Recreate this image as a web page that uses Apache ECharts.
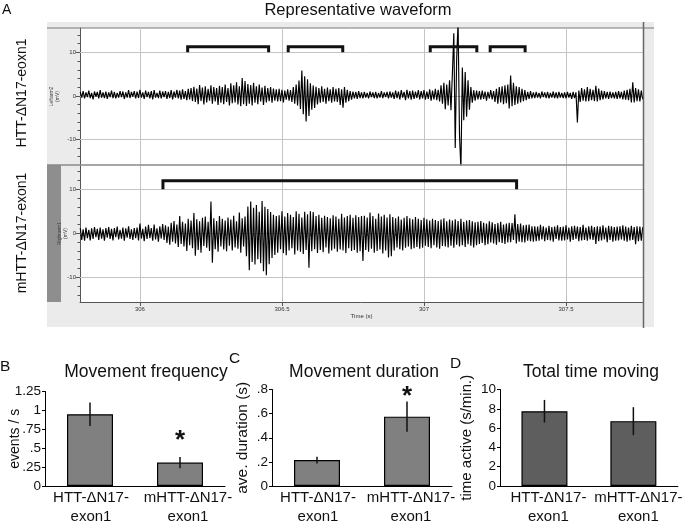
<!DOCTYPE html>
<html><head><meta charset="utf-8">
<script src="https://cdn.jsdelivr.net/npm/echarts@6/dist/echarts.min.js"></script>
<style>html,body{margin:0;padding:0;background:#fff}#c{width:685px;height:527px}</style>
</head><body><div id="c"></div>
<script>
// ---------- DATA ----------
const traceStart = 305.79;   // s, first sample
const traceStep = 0.005;     // s between samples
const timeRange = [305.789, 307.771];
const timeTicks = [306, 306.5, 307, 307.5];
const minorTimeTicks = [305.8,305.9,306.0,306.1,306.2,306.3,306.4,306.5,306.6,306.7,306.8,306.9,307.0,307.1,307.2,307.3,307.4,307.5,307.6,307.7];
const voltTicks = [-10, 0, 10];
const minorVoltTicks = [-14,-12,-10,-8,-6,-4,-2,0,2,4,6,8,10,12,14];

// Leftarm2 (mV), HTT-ΔN17-eoxn1
const topTrace = [
0.9,-0.4,1.1,-0.6,0.8,-0.3,1.2,-0.5,0.7,-0.8,1.0,-0.2,0.9,-0.6,1.3,-0.4,0.8,-0.5,1.0,-0.7,
0.8,-0.3,1.2,-0.5,0.9,-0.6,0.7,-0.4,1.1,-0.3,1.0,-0.7,0.8,-0.4,1.3,-0.5,0.9,-0.2,1.1,-0.6,
1.0,-0.5,1.4,-0.4,0.8,-0.7,1.2,-0.3,0.9,-0.6,1.1,-0.8,1.3,-0.4,0.7,-0.5,1.2,-0.6,1.0,-0.3,
1.1,-0.7,0.9,-0.5,1.3,-0.8,1.0,-0.4,1.4,-0.6,1.2,-0.9,1.5,-0.7,1.1,-1.0,1.6,-0.8,1.8,-1.2,
2.1,-1.4,1.7,-1.9,2.5,-1.2,1.9,-2.0,2.2,-1.5,1.6,-1.1,2.4,-1.8,2.0,-1.3,1.8,-2.1,2.3,-1.6,
2.0,-1.9,2.6,-1.4,1.8,-2.2,2.9,-1.7,2.4,-1.5,3.1,-2.0,2.2,-2.4,4.1,-1.9,3.4,-2.3,2.7,-1.8,
2.5,-2.2,3.0,-1.6,2.2,-1.9,2.6,-1.3,1.9,-2.1,2.3,-1.5,1.8,-1.2,2.0,-1.6,1.7,-1.1,1.5,-1.3,
1.6,-1.2,1.4,-1.5,1.2,-0.9,1.5,-1.1,1.3,-1.4,2.0,-1.8,2.6,-2.2,3.5,-3.0,5.8,-4.2,4.5,-5.9,
3.8,-4.6,2.9,-3.2,2.4,-2.8,2.1,-2.0,1.8,-1.6,2.2,-1.4,1.6,-1.8,1.9,-1.2,1.5,-1.6,2.0,-1.3,
1.6,-1.4,1.8,-2.1,1.5,-2.7,2.0,-1.6,1.4,-1.2,1.1,-0.9,1.0,-0.6,0.9,-0.7,1.1,-0.5,0.8,-0.6,
0.9,-0.4,0.7,-0.6,1.0,-0.3,0.8,-0.5,0.9,-0.6,0.7,-0.4,1.1,-0.5,0.8,-0.3,0.9,-0.6,1.0,-0.4,
0.8,-0.7,1.2,-0.5,1.0,-0.8,1.3,-0.4,0.9,-1.0,1.4,-0.6,1.1,-0.9,1.2,-0.7,1.0,-0.5,1.3,-0.8,
1.1,-0.6,1.3,-0.9,1.0,-0.7,1.5,-1.1,1.2,-0.8,1.6,-1.0,1.4,-1.3,2.4,-1.8,3.0,-3.1,2.6,-2.2,
3.6,-3.3,5.2,14.4,-12.0,8.5,17,-9.0,-17,6.5,-5.6,5.5,-4.8,3.6,-3.2,2.0,-1.6,1.3,-1.1,1.2,
-0.8,1.1,-0.9,1.2,-0.7,1.0,-1.1,0.9,-0.6,1.3,-0.8,1.1,-1.4,1.6,-1.8,2.0,-1.5,2.2,-1.9,2.4,
-1.7,2.6,-2.9,4.7,-2.4,3.0,-2.1,2.2,-1.8,2.0,-1.5,1.6,-1.2,1.3,-1.0,0.9,-0.7,1.1,-0.6,0.8,
-0.5,0.9,-0.4,0.7,-0.6,1.0,-0.3,0.8,-0.5,0.9,-0.6,0.7,-0.4,1.0,-0.5,0.8,-0.6,0.9,-0.4,0.7,
-0.5,0.8,-0.6,0.9,-0.4,0.7,-0.7,0.9,-0.5,0.8,-6.1,1.2,-1.4,1.8,-1.1,1.5,-1.3,2.0,-1.2,1.6,
-1.0,1.4,-1.2,2.3,-1.3,1.7,-1.0,1.2,-0.8,1.1,-0.6,0.9,-0.7,1.0,-0.5,0.8,-0.6,0.9,-0.7,1.1,
-0.6,0.9,-0.8,1.2,-0.9,1.4,-1.0,1.6,-1.5,3.1,-1.5,1.8,-1.2,1.5,-1.3,1.2,-0.8
];

// Rightarm1 (mV), mHTT-ΔN17-exon1
const bottomTrace = [
1.2,-1.5,0.9,-1.7,1.3,-1.1,0.8,-1.6,1.1,-1.3,1.4,-0.9,1.0,-1.5,1.3,-1.2,0.9,-1.7,1.2,-1.0,
1.4,-1.3,1.0,-1.6,1.2,-0.9,1.5,-1.4,0.8,-1.2,1.3,-1.7,1.1,-1.0,1.6,-1.3,0.9,-1.5,1.2,-1.1,
1.3,-1.6,2.2,-1.2,1.0,-1.8,1.5,-1.3,1.9,-1.1,1.2,-1.7,2.0,-1.4,1.1,-1.9,1.6,-1.2,2.1,-1.5,
1.8,-2.2,1.5,-2.6,2.4,-1.9,2.8,-2.3,2.0,-3.1,3.9,-2.4,2.6,-3.0,2.2,-4.0,3.3,-2.7,2.9,-3.4,
4.6,-5.1,3.2,-3.8,2.7,-4.4,3.5,-2.9,3.8,-3.3,2.6,-4.0,7.2,-6.7,3.4,-3.6,2.8,-4.2,3.9,-3.0,
3.3,-3.7,2.9,-4.1,3.6,-2.8,3.1,-3.9,4.0,-3.2,2.7,-3.5,4.7,-4.4,3.4,-3.0,3.8,-5.2,6.1,-8.4,
7.2,-6.5,5.8,-7.1,6.4,-5.9,4.9,-6.8,7.3,-8.6,6.0,-9.5,5.5,-7.0,4.8,-5.6,4.2,-4.9,3.9,-4.4,
4.1,-3.6,5.0,-4.5,3.8,-5.0,4.6,-3.9,4.2,-3.4,3.7,-4.8,5.0,-3.9,4.4,-4.2,3.6,-4.7,4.9,-3.8,
4.3,-7.8,5.0,-4.1,4.8,-3.6,3.9,-4.5,4.2,-3.8,3.5,-4.3,4.0,-3.2,3.7,-4.6,3.4,-3.9,4.1,-3.5,
3.8,-4.2,3.3,-3.7,4.4,-3.9,3.6,-4.5,3.9,-3.4,4.2,-4.0,3.5,-3.8,4.1,-4.4,3.7,-4.1,3.9,-6.3,
4.0,-3.8,3.6,-4.2,4.7,-3.5,3.9,-4.4,3.3,-4.0,4.5,-3.7,3.8,-4.6,4.2,-3.9,3.6,-5.5,4.3,-5.2,
3.7,-3.9,3.4,-3.2,3.8,-3.6,3.1,-3.9,3.5,-3.3,3.9,-3.0,3.4,-3.6,3.2,-3.4,3.7,-3.1,3.3,-3.5,
3.0,-3.3,3.5,-2.8,3.2,-3.1,2.9,-3.4,3.3,-2.7,3.0,-3.2,2.8,-3.5,3.1,-2.9,3.4,-3.0,2.7,-3.2,
3.1,-2.8,2.9,-3.3,3.2,-2.6,2.8,-3.0,3.3,-2.7,2.6,-3.1,2.9,-2.5,3.0,-2.8,2.7,-3.2,2.5,-2.7,
2.6,-2.4,2.8,-2.2,2.4,-2.7,2.2,-2.5,2.7,-2.1,2.5,-2.3,2.1,-2.6,2.3,-2.0,2.6,-2.2,2.0,-2.4,
2.2,-2.1,2.4,-2.0,2.3,-1.5,4.3,-2.3,2.1,-1.9,2.2,-2.0,1.8,-2.1,1.9,-1.7,2.0,-1.8,1.6,-1.9,
1.6,-1.8,1.5,-1.7,1.9,-1.4,1.6,-1.8,1.3,-1.5,1.7,-1.6,1.4,-1.9,1.5,-1.3,1.8,-1.6,1.4,-1.7,
1.5,-1.6,1.8,-1.4,1.3,-1.9,1.6,-1.5,1.7,-1.3,1.5,-1.8,1.4,-1.6,1.9,-1.5,1.3,-1.7,1.6,-1.4,
1.7,-1.5,1.4,-2.4,1.6,-1.8,1.5,-1.6,1.8,-1.4,1.3,-2.0,1.7,-1.5,1.6,-1.9,1.4,-1.7,1.5,-1.6,
1.6,-1.4,1.8,-1.7,1.5,-1.9,1.3,-1.6,1.7,-1.5,1.4,-2.5,1.6,-1.8,1.5,-1.7,1.4
];

// movement brackets [start, end] in s
const topBrackets = [[306.168, 306.453], [306.522, 306.714], [307.022, 307.186], [307.233, 307.356]];
const topBracketLevel = 11.3;
const bottomBrackets = [[306.081, 307.326]];
const bottomBracketLevel = 11.9;
const bracketBase = 10;

// panels B-D
const groups = ['HTT-ΔN17-\nexon1', 'mHTT-ΔN17-\nexon1'];
const freqMean = [0.95, 0.31];
const freqErr = [0.155, 0.075];
const freqStar = [null, 0.66];
const durMean = [0.215, 0.575];
const durErr = [0.028, 0.125];
const durStar = [null, 0.78];
const activeMean = [7.75, 6.72];
const activeErr = [1.17, 1.45];

// ---------- CHART ----------
const FONT = '"Liberation Sans", Arial, sans-serif';
const chart = echarts.init(document.getElementById('c'));
const toPairs = vals => vals.map((v, i) => [+(traceStart + i * traceStep).toFixed(3), v]);
const dropLead = v => { const s = String(+v.toFixed(4)); return s.startsWith('0.') ? s.slice(1) : s; };

const smallTxt = { fontSize: 6, color: '#333', fontFamily: FONT };

function waveX(grid, labelled) {
  return {
    gridIndex: grid, type: 'value', position: 'bottom', min: timeRange[0], max: timeRange[1],
    axisLine: { show: labelled, onZero: false, lineStyle: { color: '#555', width: 1 } },
    axisTick: { show: labelled, customValues: timeTicks, length: 4, lineStyle: { color: '#555' } },
    axisLabel: labelled ? Object.assign({ customValues: timeTicks, margin: 4 }, smallTxt) : { show: false },
    splitLine: { show: false },
    name: labelled ? 'Time (s)' : '', nameLocation: 'middle', nameGap: 10, nameTextStyle: smallTxt
  };
}
function minorX(grid) {
  return {
    gridIndex: grid, type: 'value', position: 'bottom', min: timeRange[0], max: timeRange[1],
    axisLine: { show: false }, axisLabel: { show: false }, splitLine: { show: false },
    axisTick: { show: true, customValues: minorTimeTicks, length: 2.5, lineStyle: { color: '#555' } }
  };
}
function waveY(grid, min, max, name, gap) {
  return {
    gridIndex: grid, type: 'value', position: 'left', min: min, max: max,
    axisLine: { show: true, onZero: false, lineStyle: { color: '#555', width: 1 } },
    axisTick: { show: true, customValues: voltTicks, length: 4, lineStyle: { color: '#555' } },
    axisLabel: Object.assign({ customValues: voltTicks, margin: 4 }, smallTxt),
    splitLine: { show: false },
    name: name, nameLocation: 'middle', nameGap: gap, nameMoveOverlap: false,
    nameTextStyle: { fontSize: 5, lineHeight: 6, color: '#444', fontFamily: FONT }
  };
}
function minorY(grid, min, max) {
  return {
    gridIndex: grid, type: 'value', position: 'left', min: min, max: max,
    axisLine: { show: false }, axisLabel: { show: false }, splitLine: { show: false },
    axisTick: { show: true, customValues: minorVoltTicks, length: 2.5, lineStyle: { color: '#555' } }
  };
}
function catX(grid, shifts) {
  return {
    gridIndex: grid, type: 'category',
    data: groups.map((g, i) => ({ value: g, textStyle: { padding: [0, 0, 0, 2 * shifts[i]] } })),
    axisLine: { show: true, lineStyle: { color: '#000', width: 1 } },
    axisTick: { show: false },
    axisLabel: { interval: 0, fontSize: 15, lineHeight: 19.5, color: '#111', margin: 2, fontFamily: FONT }
  };
}
function barY(grid, max, interval, name, size, gap) {
  return {
    gridIndex: grid, type: 'value', min: 0, max: max, interval: interval,
    axisLine: { show: true, lineStyle: { color: '#000', width: 1 } },
    axisTick: { show: true, length: 3, lineStyle: { color: '#000' } },
    splitLine: { show: false },
    axisLabel: { fontSize: 13.5, color: '#111', margin: 4, fontFamily: FONT, formatter: dropLead },
    name: name, nameLocation: 'middle', nameGap: gap, nameMoveOverlap: false,
    nameTextStyle: { fontSize: size, color: '#111', fontFamily: FONT }
  };
}
function bars(ax, means, color) {
  return {
    type: 'bar', xAxisIndex: ax, yAxisIndex: ax + 1, data: means, barWidth: 46,
    itemStyle: { color: color, borderColor: '#000', borderWidth: 1.2 }, z: 2
  };
}
function errBars(ax, means, errs) {
  return {
    type: 'custom', xAxisIndex: ax, yAxisIndex: ax + 1, z: 4,
    data: means.map((m, i) => [i, m - errs[i], m + errs[i]]),
    renderItem: (p, api) => {
      const a = api.coord([api.value(0), api.value(1)]);
      const b = api.coord([api.value(0), api.value(2)]);
      return { type: 'line', shape: { x1: a[0], y1: a[1], x2: b[0], y2: b[1] },
               style: { stroke: '#111', lineWidth: 1.5 } };
    }
  };
}
function stars(ax, vals) {
  const d = [];
  vals.forEach((v, i) => { if (v != null) d.push([i, v]); });
  return {
    type: 'custom', xAxisIndex: ax, yAxisIndex: ax + 1, z: 5, data: d,
    renderItem: (p, api) => {
      const c = api.coord([api.value(0), api.value(1)]);
      return { type: 'text', x: c[0], y: c[1] + 5,
               style: { text: '*', fontSize: 26, fontWeight: 'bold', fontFamily: FONT,
                        fill: '#111', align: 'center', verticalAlign: 'middle' } };
    }
  };
}
function bracketSeries(list, level, xi, yi) {
  return list.map(([a, b]) => ({
    type: 'line', xAxisIndex: xi, yAxisIndex: yi, showSymbol: false, symbol: 'none', z: 12,
    data: [[a, bracketBase], [a, level], [b, level], [b, bracketBase]],
    lineStyle: { color: '#111', width: 3, join: 'miter' }, silent: true
  }));
}
function txt(text, x, y, size, align, rotation) {
  return {
    type: 'text', x: x, y: y, rotation: rotation || 0, silent: true, z: 20,
    style: { text: text, fontSize: size, fontFamily: FONT, fill: '#111',
             align: align || 'center', verticalAlign: 'middle' }
  };
}
function trace(vals, xi, yi) {
  return { type: 'line', xAxisIndex: xi, yAxisIndex: yi, data: toPairs(vals), showSymbol: false,
           symbol: 'none', lineStyle: { color: '#000', width: 1.15 }, clip: true, z: 10, silent: true };
}

const topMin = -15.9, topMax = 15.6, botMin = -15.6, botMax = 15.5;

const frame = [
  { type: 'rect', shape: { x: 47, y: 22, width: 607, height: 6 }, style: { fill: '#ebebeb' }, z: -100, silent: true },
  { type: 'rect', shape: { x: 47, y: 28, width: 33, height: 274 }, style: { fill: '#ebebeb' }, z: -100, silent: true },
  { type: 'rect', shape: { x: 643, y: 28, width: 11, height: 274 }, style: { fill: '#ebebeb' }, z: -100, silent: true },
  { type: 'rect', shape: { x: 47, y: 302, width: 607, height: 25 }, style: { fill: '#ebebeb' }, z: -100, silent: true },
  { type: 'rect', shape: { x: 47, y: 165, width: 14, height: 137 }, style: { fill: '#8e8e8e' }, z: -99, silent: true },
  { type: 'line', shape: { x1: 47, y1: 28, x2: 654, y2: 28 }, style: { stroke: '#777', lineWidth: 1 }, z: 8, silent: true },
  { type: 'line', shape: { x1: 47, y1: 165, x2: 643, y2: 165 }, style: { stroke: '#8a8a8a', lineWidth: 1.5 }, z: 13, silent: true },
  { type: 'line', shape: { x1: 643.5, y1: 22, x2: 643.5, y2: 328 }, style: { stroke: '#666', lineWidth: 1.5 }, z: 13, silent: true },
  txt('A', 2, 10, 14, 'left'),
  txt('Representative waveform', 358, 10, 16.5),
  txt('HTT-ΔN17-eoxn1', 22, 93, 14, 'center', Math.PI / 2),
  txt('mHTT-ΔN17-exon1', 22, 233, 14, 'center', Math.PI / 2),
  txt('B', 0, 367, 15.5, 'left'),
  txt('C', 229, 359, 15.5, 'left'),
  txt('D', 450, 363.5, 15.5, 'left'),
  txt('Movement frequency', 146, 372, 17.5),
  txt('Movement duration', 364, 372.5, 17.5),
  txt('Total time moving', 591, 372, 17.5)
];

const option = {
  animation: false,
  backgroundColor: '#fff',
  grid: [
    { left: 80, top: 28, width: 563, height: 137 },
    { left: 80, top: 165, width: 563, height: 137 },
    { left: 45, top: 391.5, width: 180, height: 101.8 },
    { left: 272, top: 389.5, width: 180, height: 103 },
    { left: 500, top: 389.5, width: 180, height: 103 }
  ],
  xAxis: [waveX(0, false), waveX(1, true), minorX(1), catX(2, [1, 8]), catX(3, [1, 4]), catX(4, [4, 5])],
  yAxis: [
    waveY(0, topMin, topMax, 'Leftarm2\n(mV)', 19), minorY(0, topMin, topMax),
    waveY(1, botMin, botMax, 'Rightarm1\n(mV)', 11), minorY(1, botMin, botMax),
    barY(2, 1.25, 0.25, 'events / s', 14, 23),
    barY(3, 0.8, 0.2, 'ave. duration (s)', 15.5, 21),
    barY(4, 10, 2, 'time active (s/min.)', 15, 25.5)
  ],
  series: [
    trace(topTrace, 0, 0),
    trace(bottomTrace, 1, 2),
    ...bracketSeries(topBrackets, topBracketLevel, 0, 0),
    ...bracketSeries(bottomBrackets, bottomBracketLevel, 1, 2),
    bars(3, freqMean, '#808080'), errBars(3, freqMean, freqErr), stars(3, freqStar),
    bars(4, durMean, '#808080'), errBars(4, durMean, durErr), stars(4, durStar),
    bars(5, activeMean, '#5e5e5e'), errBars(5, activeMean, activeErr)
  ],
  graphic: frame
};

chart.setOption(option);

// Grid lines of the waveform panels: positions come from the axes' own scales.
function gridLineEls(xAxisIndex, yAxisIndex, yMin, yMax) {
  const els = [];
  const yTop = chart.convertToPixel({ yAxisIndex: yAxisIndex }, yMax);
  const yBot = chart.convertToPixel({ yAxisIndex: yAxisIndex }, yMin);
  const xL = chart.convertToPixel({ xAxisIndex: xAxisIndex }, timeRange[0]);
  const xR = chart.convertToPixel({ xAxisIndex: xAxisIndex }, timeRange[1]);
  timeTicks.forEach(t => {
    const x = Math.round(chart.convertToPixel({ xAxisIndex: xAxisIndex }, t)) + 0.5;
    els.push({ type: 'line', shape: { x1: x, y1: yTop, x2: x, y2: yBot },
               style: { stroke: '#c4c4c4', lineWidth: 1 }, z: 9, silent: true });
  });
  voltTicks.forEach(v => {
    const y = Math.round(chart.convertToPixel({ yAxisIndex: yAxisIndex }, v)) + 0.5;
    els.push({ type: 'line', shape: { x1: xL, y1: y, x2: xR, y2: y },
               style: { stroke: '#c4c4c4', lineWidth: 1 }, z: 9, silent: true });
  });
  return els;
}
chart.setOption({
  graphic: frame.concat(gridLineEls(0, 0, topMin, topMax), gridLineEls(1, 2, botMin, botMax))
}, { replaceMerge: ['graphic'] });
</script></body></html>
